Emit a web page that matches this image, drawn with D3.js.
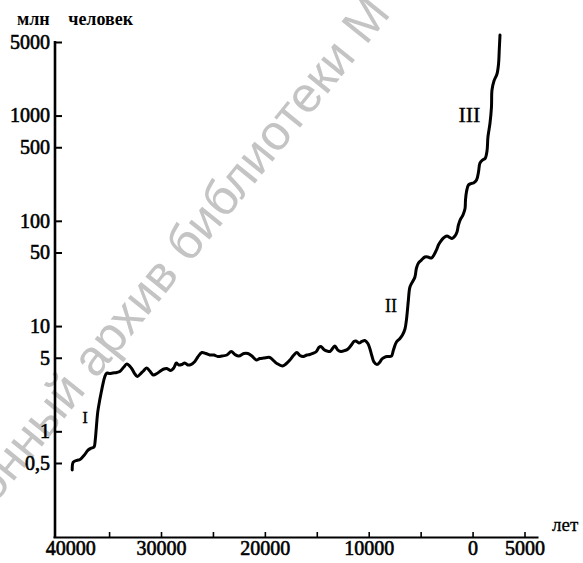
<!DOCTYPE html>
<html>
<head>
<meta charset="utf-8">
<script src="https://cdn.jsdelivr.net/npm/d3@7"></script>
<style>
  html, body { margin: 0; padding: 0; background: #fff; }
  svg { display: block; }
</style>
</head>
<body>
<svg id="chart" width="583" height="563"></svg>
<script>
// ---- data ----
const years = [
  -38550, -38450, -38100, -37800, -37550, -37350, -37050, -36750, -36450, -36330,
  -36230, -36090, -35900, -35750, -35610, -35420, -35220, -34930, -34640, -34260,
  -33970, -33580, -33300, -32860, -32570, -32280, -31950, -31660, -31370, -31080,
  -30740, -30400, -30120, -29730, -29440, -29060, -28770, -28530, -28290, -28000,
  -27710, -27420, -27130, -26740, -26460, -26070, -25680, -25300, -24910, -24530,
  -24140, -23660, -23230, -22890, -22500, -22020, -21640, -21250, -20820, -20480,
  -20100, -19520, -19130, -18840, -18310, -17980, -17590, -17210, -16920, -16630,
  -16290, -15950, -15660, -15380, -15040, -14800, -14600, -14320, -14030, -13740,
  -13450, -13260, -12970, -12680, -12290, -12000, -11670, -11430, -11230, -10940,
  -10660, -10370, -10080, -9880, -9690, -9500, -9210, -8920, -8730, -8440,
  -8150, -7810, -7620, -7330, -6990, -6750, -6510, -6370, -6270, -6180,
  -6030, -5740, -5550, -5400, -5210, -4920, -4590, -4300, -3960, -3720,
  -3480, -3290, -3090, -2800, -2470, -2180, -1980, -1700, -1500, -1360,
  -1170, -920, -730, -680, -590, -400, -150, 90, 380, 570,
  710, 950, 1200, 1390, 1480, 1680, 1820, 1870, 2060, 2350,
  2500, 2570, 2640
];
const population = [
  0.43, 0.51, 0.53, 0.54, 0.57, 0.60, 0.66, 0.69, 0.71, 0.83,
  1.08, 1.53, 1.98, 2.36, 2.76, 3.28, 3.58, 3.54, 3.58, 3.62,
  3.70, 4.08, 4.36, 4.00, 3.58, 3.32, 3.54, 3.78, 4.00, 3.74,
  3.43, 3.54, 3.70, 3.91, 3.95, 3.78, 4.00, 4.46, 4.27, 4.31,
  4.46, 4.27, 4.31, 4.61, 5.08, 5.61, 5.49, 5.31, 5.31, 5.14,
  5.19, 5.31, 5.73, 5.37, 5.19, 5.49, 5.49, 5.19, 4.76, 4.92,
  4.97, 5.03, 4.66, 4.41, 4.17, 4.36, 4.76, 5.31, 5.61, 5.25,
  5.14, 5.31, 5.37, 5.49, 5.73, 6.26, 6.40, 5.99, 5.80, 5.73,
  6.19, 6.47, 5.92, 5.73, 5.86, 6.06, 6.61, 7.14, 7.21, 6.91,
  7.14, 7.29, 6.83, 6.06, 5.19, 4.56, 4.31, 4.56, 4.87, 5.08,
  5.14, 5.19, 5.92, 7.06, 7.62, 8.23, 9.38, 11.4, 14.2, 17.7,
  23.5, 26.8, 29.3, 35.6, 39.7, 42.4, 45.3, 45.3, 44.3, 47.3,
  52.8, 58.9, 63.6, 68.7, 71.7, 69.4, 67.9, 71.7, 78.3, 91.2,
  103, 114, 130, 158, 188, 219, 226, 229, 244, 291,
  354, 378, 391, 461, 626, 850, 1206, 1750, 2131, 2483,
  3090, 4198, 5830
];
const yTickValues = [0.5, 1, 5, 10, 50, 100, 500, 1000, 5000];
const xTickValues = [-40000, -35000, -30000, -25000, -20000, -15000, -10000, -5000, 0, 5000];
const xLabelledTicks = [-40000, -30000, -20000, -10000, 0, 5000];
const yTitle = "млн человек";
const xTitle = "лет";
const phaseLabels = ["I", "II", "III"];
const phaseYears = [-37320, -7860, -300];
const phaseValues = [1.2, 13.6, 870];
const phaseSizes = [17, 18, 22];
const watermarkText = "Электронный архив библиотеки М";

// ---- layout ----
const svg = d3.select("#chart");
const W = 583, H = 563;
const axisY = 537;   // x-axis baseline
const axisX = 55;    // y-axis position
const serif = "'Liberation Serif', 'Times New Roman', serif";

const x = d3.scaleLinear().domain([-40400, 6300]).range([53, 538]);
const y = d3.scaleLog().domain([0.5, 5000]).range([463, 42]);

svg.append("rect").attr("width", W).attr("height", H).attr("fill", "#fff");

// watermark
svg.append("text")
  .attr("transform", "translate(392,14) rotate(-51)")
  .attr("text-anchor", "end")
  .attr("font-family", "'Liberation Sans', Arial, sans-serif")
  .attr("font-size", 50)
  .attr("fill", "#c4c4c4")
  .text(watermarkText);

// y axis
const fmt = d3.formatLocale({decimal: ",", thousands: "", grouping: [3], currency: ["", ""]}).format("~g");
const yAxis = d3.axisLeft(y).tickValues(yTickValues).tickFormat(fmt)
  .tickSizeInner(-7).tickSizeOuter(0).tickPadding(5);
const gy = svg.append("g").attr("transform", `translate(${axisX},0)`).call(yAxis);
gy.select(".domain").remove();
gy.selectAll(".tick line").attr("stroke", "#000").attr("stroke-width", 2);
gy.selectAll(".tick text")
  .attr("font-family", serif).attr("font-size", 20).attr("fill", "#000")
  .attr("stroke", "#000").attr("stroke-width", 0.6);
svg.append("line")
  .attr("x1", axisX).attr("x2", axisX)
  .attr("y1", y(5000) - 1).attr("y2", axisY + 1)
  .attr("stroke", "#000").attr("stroke-width", 2.6);

// x axis
const xAxis = d3.axisBottom(x).tickValues(xTickValues)
  .tickFormat(d => xLabelledTicks.includes(d) ? String(Math.abs(d)) : "")
  .tickSizeInner(-5).tickSizeOuter(0).tickPadding(4);
const gx = svg.append("g").attr("transform", `translate(0,${axisY})`).call(xAxis);
gx.select(".domain").attr("stroke", "#000").attr("stroke-width", 2.2);
gx.selectAll(".tick line").attr("stroke", "#000").attr("stroke-width", 1.6)
  .attr("opacity", d => d === xTickValues[0] ? 0 : 1);
gx.selectAll(".tick text")
  .attr("font-family", serif).attr("font-size", 20).attr("fill", "#000")
  .attr("stroke", "#000").attr("stroke-width", 0.6)
  .attr("dx", d => d === xTickValues[0] ? 13 : 0);

// titles
svg.append("text")
  .attr("x", 17).attr("y", 25)
  .attr("font-family", serif).attr("font-size", 18).attr("font-weight", "bold")
  .attr("word-spacing", 14)
  .attr("fill", "#000")
  .text(yTitle);
svg.append("text")
  .attr("x", 552).attr("y", 531)
  .attr("font-family", serif).attr("font-size", 19)
  .attr("fill", "#000").attr("stroke", "#000").attr("stroke-width", 0.3)
  .text(xTitle);

// data line
const pts = years.map((yr, i) => [yr, population[i]]);
const line = d3.line()
  .x(d => x(d[0])).y(d => y(d[1]))
  .curve(d3.curveCatmullRom.alpha(0.5));
svg.append("path")
  .datum(pts)
  .attr("d", line)
  .attr("fill", "none")
  .attr("stroke", "#000")
  .attr("stroke-width", 3)
  .attr("stroke-linejoin", "round")
  .attr("stroke-linecap", "round");

// phase labels
svg.selectAll(".phase")
  .data(phaseLabels)
  .enter().append("text")
  .attr("class", "phase")
  .attr("x", (d, i) => x(phaseYears[i]))
  .attr("y", (d, i) => y(phaseValues[i]))
  .attr("text-anchor", "middle")
  .attr("font-family", serif)
  .attr("font-size", (d, i) => phaseSizes[i])
  .attr("fill", "#000").attr("stroke", "#000").attr("stroke-width", 0.3)
  .text(d => d);
</script>
</body>
</html>
